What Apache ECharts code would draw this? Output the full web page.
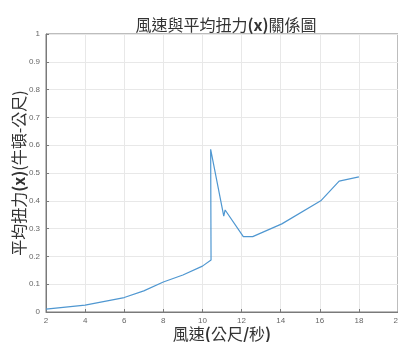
<!DOCTYPE html>
<html>
<head>
<meta charset="utf-8">
<script src="https://cdn.jsdelivr.net/npm/echarts@6/dist/echarts.min.js"></script>
<style>
  html, body { margin: 0; padding: 0; background: #fff; }
  #chart { width: 398px; height: 342px; }
</style>
</head>
<body>
<div id="chart"></div>
<script>
// 風速 (公尺/秒) vs 平均扭力 (牛頓-公尺)
const windSpeed = [2, 4, 6, 7, 8, 9, 10, 10.44, 10.42, 11.09, 11.16, 12.09, 12.57, 14.06, 16.05, 16.99, 18.0];
const torque = [0.01, 0.025, 0.052, 0.076, 0.108, 0.133, 0.165, 0.187, 0.585, 0.345, 0.367, 0.271, 0.271, 0.317, 0.40, 0.471, 0.486];

const xTicks = { min: 2, max: 20, step: 2 };
const yTicks = { min: 0, max: 1, step: 0.1 };

const points = windSpeed.map((w, i) => [w, torque[i]]);

const axisGray = '#7a7a7a';
const gridGray = '#e8e8e8';
const cjk = '"Noto Sans CJK TC", "Noto Sans CJK SC", sans-serif';
const nameRich = {
    a: { fontFamily: cjk, fontSize: 16, color: '#333', fontWeight: 'normal' },
    b: { fontFamily: cjk, fontSize: 16, color: '#333', fontWeight: 'bold' }
};

const chart = echarts.init(document.getElementById('chart'));
chart.setOption({
    backgroundColor: '#ffffff',
    animation: false,
    title: {
        text: '{a|風速與平均扭力}{b|(x)}{a|關係圖}',
        left: 221,
        top: 12,
        textAlign: 'center',
        textStyle: { fontWeight: 'normal', rich: nameRich }
    },
    grid: {
        left: 46, right: 0, top: 34, bottom: 30,
        outerBoundsMode: 'none',
        containLabel: false,
        show: true, borderColor: axisGray, borderWidth: 1
    },
    xAxis: {
        type: 'value',
        min: xTicks.min, max: xTicks.max, interval: xTicks.step,
        name: '{a|風速}{b|(}{a|公尺}{b|/}{a|秒}{b|)}',
        nameLocation: 'middle',
        nameGap: 14,
        nameMoveOverlap: false,
        nameTextStyle: { rich: nameRich, verticalAlign: 'top' },
        axisLine: { show: true, lineStyle: { color: axisGray } },
        axisTick: { show: true, inside: true, length: 3, lineStyle: { color: axisGray } },
        axisLabel: { fontSize: 8, color: '#666', margin: 5 },
        splitLine: { show: true, lineStyle: { color: gridGray } }
    },
    yAxis: {
        type: 'value',
        min: yTicks.min, max: yTicks.max, interval: yTicks.step,
        name: '{a|平均扭力}{b|(x)}{a|(牛頓-公尺)}',
        nameLocation: 'middle',
        nameGap: 19,
        nameMoveOverlap: false,
        nameTextStyle: { rich: nameRich, verticalAlign: 'bottom' },
        axisLine: { show: true, lineStyle: { color: axisGray } },
        axisTick: { show: true, inside: true, length: 3, lineStyle: { color: axisGray } },
        axisLabel: { fontSize: 8, color: '#666', margin: 6 },
        splitLine: { show: true, lineStyle: { color: gridGray } }
    },
    series: [{
        type: 'line',
        data: points,
        showSymbol: false,
        lineStyle: { color: '#4f97d1', width: 1.2 },
        itemStyle: { color: '#4f97d1' }
    }]
});
</script>
</body>
</html>
